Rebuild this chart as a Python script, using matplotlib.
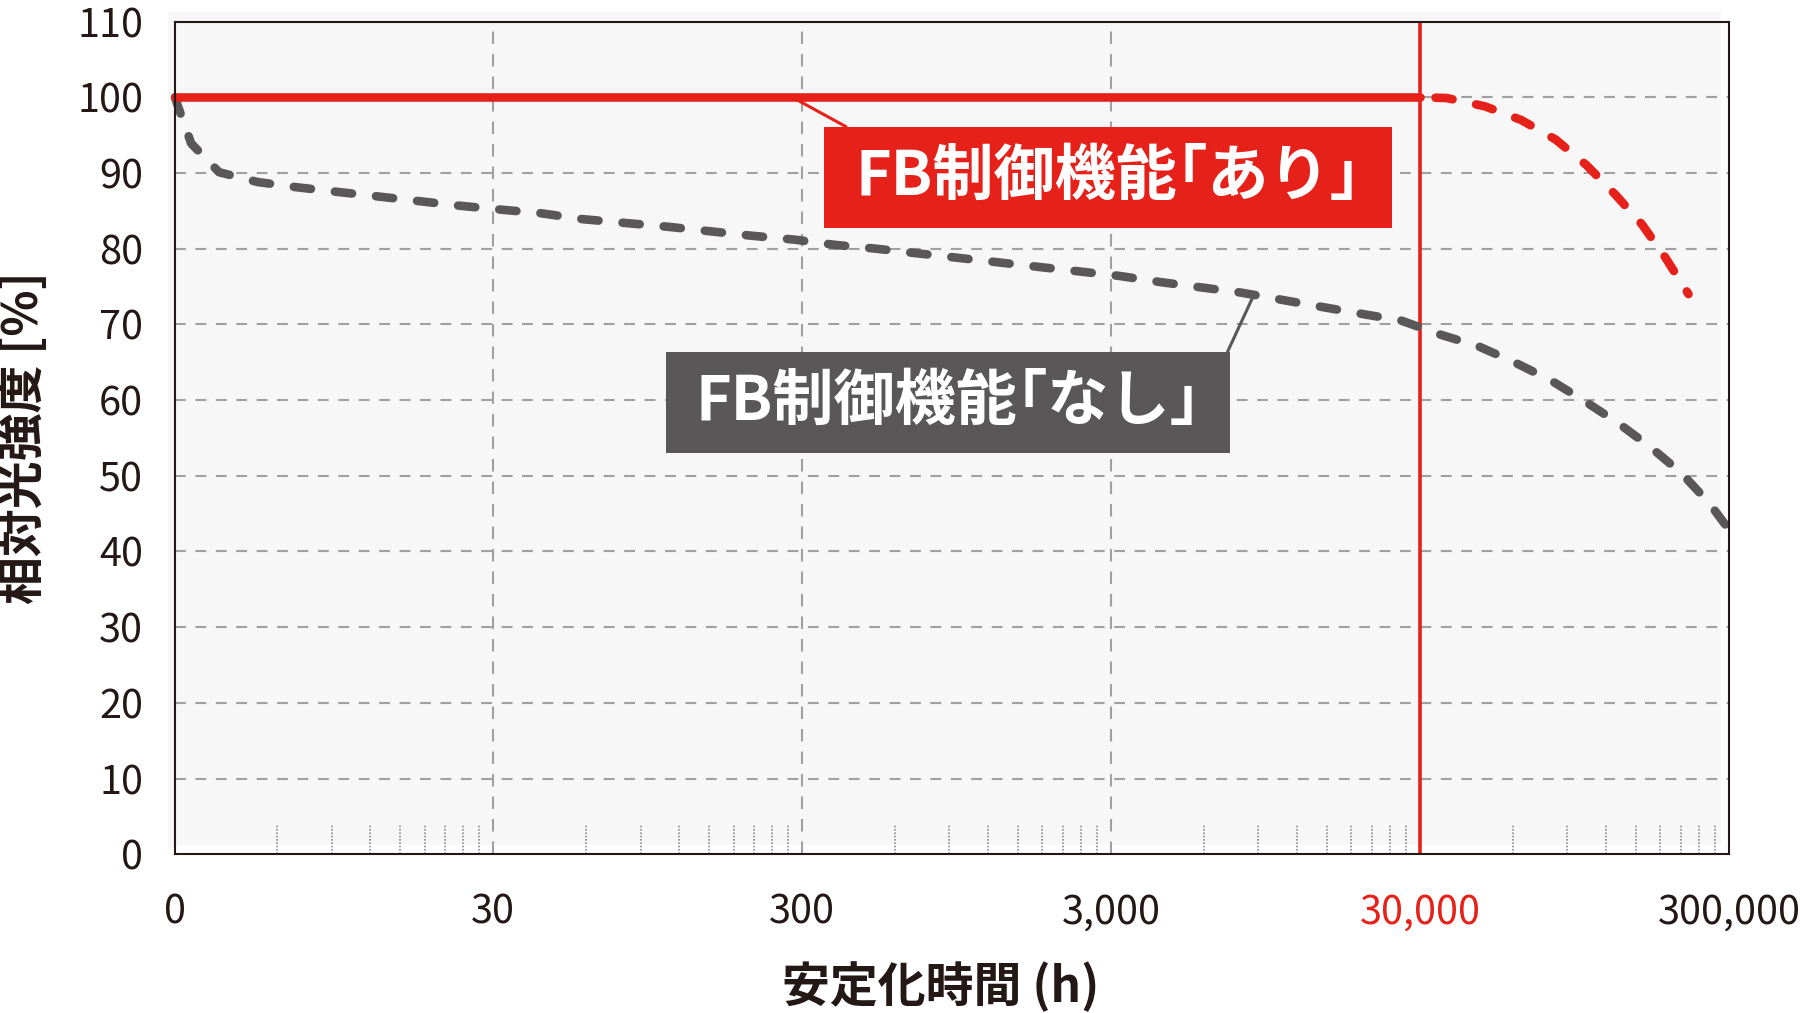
import matplotlib.pyplot as plt
from matplotlib.patches import Rectangle
import numpy as np

plt.rcParams['font.family'] = ['Noto Sans CJK JP', 'DejaVu Sans']

RED = "#e5211a"
GRAY = "#595757"
INK = "#231815"
GRID = "#9fa0a0"

# x axis (hours): the left end of the log axis is labelled "0"
x_min = 2.8
x_max = 300000
x_ticks = [x_min, 30, 300, 3000, 30000, 300000]
x_ticklabels = ["0", "30", "300", "3,000", "30,000", "300,000"]
y_ticks = list(range(0, 111, 10))
decades = [3, 30, 300, 3000, 30000]

# FB control "on": stays at 100 % until 30,000 h, projected after that
ari_x = [x_min, 30000]
ari_y = [100, 100]
ari_proj_x = [30000, 36600, 48700, 63800, 82600, 104000, 129000, 157000, 187000, 222000]
ari_proj_y = [100, 99.9, 98.8, 97.0, 94.4, 91.0, 87.1, 83.2, 78.8, 74.0]

# FB control "off"
nashi_x = [2.8, 2.87, 3.16, 3.89, 5.19, 6.98, 9.4, 12.7, 17.1, 23.0, 30.9, 42.5,
           58.4, 80, 110, 151, 207, 283, 384, 520, 703, 954, 1290, 1740, 2360,
           3190, 4310, 5830, 7890, 8700, 14000, 20000, 26100, 34600, 46400,
           60600, 79600, 102000, 131000, 167000, 210000, 259000, 300000]
nashi_y = [100, 98.7, 93.9, 90.1, 88.8, 88.1, 87.5, 86.9, 86.3, 85.7, 85.2, 84.7,
           83.9, 83.4, 82.9, 82.3, 81.7, 81.2, 80.5, 80.0, 79.4, 78.8, 78.2, 77.6,
           77.0, 76.4, 75.6, 74.9, 74.2, 73.9, 72.4, 71.3, 70.5, 68.7, 67.1,
           65.0, 62.6, 59.9, 57.0, 53.8, 50.4, 46.4, 42.9]

label_ari = "FB制御機能｢あり｣"
label_nashi = "FB制御機能｢なし｣"

fig = plt.figure(figsize=(18, 10.13), dpi=100)
ax = fig.add_axes([0.0972, 0.1567, 0.8633, 0.822])
ax.set_facecolor("none")

# light panel behind the plot, slightly offset from the frame
fig.patches.append(Rectangle((0.0932, 0.1629), 0.8628, 0.825, transform=fig.transFigure,
                             facecolor="#f7f7f7", edgecolor="none", zorder=-1))
ax.axhspan(0, 1.2, color="white", zorder=0)

ax.set_xscale("log")
ax.set_xlim(x_min, x_max)
ax.set_ylim(0, 110)

# grid
for y in y_ticks[1:-1]:
    ax.axhline(y, color=GRID, lw=1.5, linestyle=(0, (5.2, 4.6)), zorder=1)
for x in [30, 300, 3000]:
    ax.axvline(x, color=GRID, lw=1.5, linestyle=(0, (6.0, 4.8)), zorder=1)
minor = [k * d for d in decades for k in range(2, 10)]
ax.vlines(minor, 0, 4, color="#8c8c8c", lw=1.2, linestyles=(0, (1, 1)), zorder=1)

ax.axvline(30000, color=RED, lw=2.6, zorder=3)

# curves
lw = 6.2
ax.plot(nashi_x, nashi_y, color=GRAY, lw=lw, linestyle=(0, (2.0, 2.8)),
        dash_capstyle="round", solid_capstyle="round", zorder=4, clip_on=False)
ax.plot(ari_x, ari_y, color=RED, lw=lw, solid_capstyle="round", zorder=5, clip_on=False)
ax.plot(ari_proj_x, ari_proj_y, color=RED, lw=lw, linestyle=(3.0, (2.0, 2.8)),
        dash_capstyle="round", zorder=5)

# callout boxes
ax.add_patch(Rectangle((0.4174, 0.7518), 0.3661, 0.1220, transform=ax.transAxes,
                       facecolor=RED, edgecolor="none", zorder=6))
ax.text(0.6004, 0.8128, label_ari, transform=ax.transAxes, ha="center", va="center",
        color="white", fontsize=44, fontweight="bold", zorder=7)
ax.annotate("", xy=(279, 100), xycoords="data", xytext=(0.4318, 0.8738),
            textcoords="axes fraction",
            arrowprops=dict(arrowstyle="-", color=RED, lw=2.2, shrinkA=0, shrinkB=0),
            zorder=6)

ax.add_patch(Rectangle((0.3158, 0.4816), 0.3629, 0.1220, transform=ax.transAxes,
                       facecolor=GRAY, edgecolor="none", zorder=6))
ax.text(0.4973, 0.5426, label_nashi, transform=ax.transAxes, ha="center", va="center",
        color="white", fontsize=44, fontweight="bold", zorder=7)
ax.annotate("", xy=(8700, 73.9), xycoords="data", xytext=(0.6774, 0.6036),
            textcoords="axes fraction",
            arrowprops=dict(arrowstyle="-", color=GRAY, lw=2.2, shrinkA=0, shrinkB=0),
            zorder=6)

# axes styling
for s in ax.spines.values():
    s.set_color(INK)
    s.set_linewidth(1.5)
    s.set_zorder(8)

ax.set_yticks(y_ticks)
ax.set_yticklabels([str(v) for v in y_ticks])
ax.set_xticks(x_ticks)
ax.set_xticklabels(x_ticklabels)
ax.xaxis.set_minor_locator(plt.NullLocator())
ax.tick_params(axis="both", length=0, labelsize=28.5, colors=INK)
ax.tick_params(axis="y", pad=23)
ax.tick_params(axis="x", pad=27.5)
ax.get_xticklabels()[4].set_color(RED)

ax.set_xlabel("安定化時間 (h)", fontsize=34.5, fontweight="bold", color=INK, va="center")
ax.xaxis.set_label_coords(0.493, -0.1594)
ax.set_ylabel("相対光強度 [%]", fontsize=34.5, fontweight="bold", color=INK, va="center")
ax.yaxis.set_label_coords(-0.0978, 0.5)

fig.savefig("out.png", dpi=100)
